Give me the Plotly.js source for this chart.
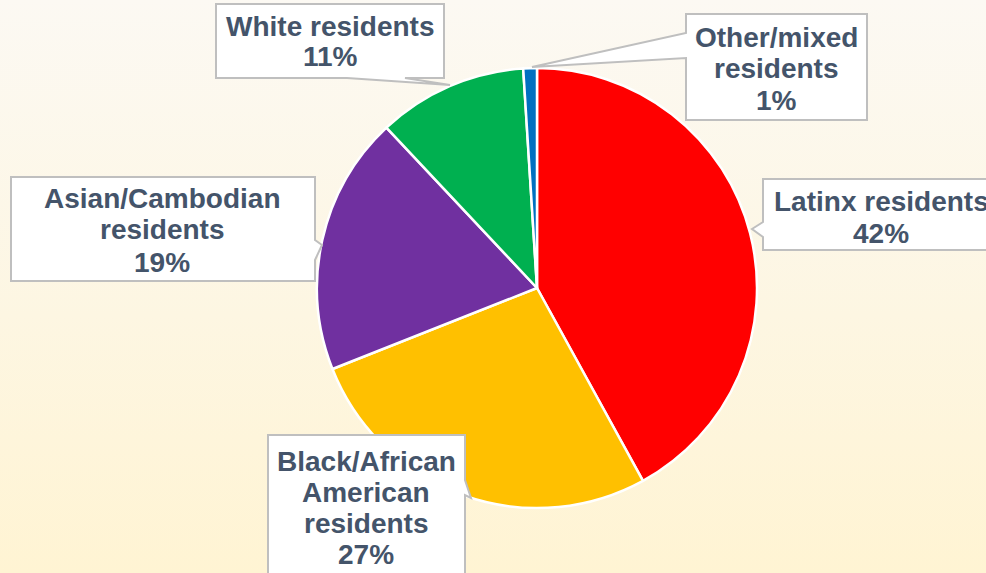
<!DOCTYPE html>
<html>
<head>
<meta charset="utf-8">
<script src="https://cdn.plot.ly/plotly-3.0.1.min.js"></script>
<style>
html,body{margin:0;padding:0;width:986px;height:573px;overflow:hidden;
background:linear-gradient(to bottom,#fcf9f3 0%,#fdf6e2 55%,#fff4d3 100%);}
#chart{width:986px;height:573px;}
</style>
</head>
<body>
<div id="chart"></div>
<script>
// Data
var categories = ["Latinx residents", "Black/African<br>American<br>residents", "Asian/Cambodian<br>residents", "White residents", "Other/mixed<br>residents"];
var values = [42, 27, 19, 11, 1];
var colors = ["#FF0000", "#FFC000", "#7030A0", "#00B050", "#0070C0"];

var W = 986, H = 573;
function px(x){ return x / W; }
function py(y){ return 1 - y / H; }

// Callout layout (pixel positions of boxes, line centers)
var callouts = [
  {cx: 881, lines: [201, 233], path: [[763,179],[1010,179],[1010,250],[763,250],[763,237],[752,229],[763,222]]},
  {cx: 366, lines: [461, 492, 523, 554], path: [[268,435],[465,435],[465,480],[471,498],[465,495],[465,600],[268,600]]},
  {cx: 162, lines: [198, 230, 262], path: [[11,177],[315,177],[315,240],[322,245],[315,260],[315,281],[11,281]]},
  {cx: 330, lines: [26, 57], path: [[216,4],[444,4],[444,78],[405,78],[450,85],[347,78],[216,78]]},
  {cx: 776, lines: [37, 69, 101], path: [[686,14],[867,14],[867,120],[686,120],[686,58],[532,67],[686,33]]}
];

var shapes = [], annotations = [];
callouts.forEach(function(c, i){
  var d = c.path.map(function(p, k){ return (k ? 'L' : 'M') + px(p[0]).toFixed(5) + ',' + py(p[1]).toFixed(5); }).join(' ') + ' Z';
  shapes.push({type:'path', xref:'paper', yref:'paper', path:d, fillcolor:'#FFFFFF', line:{color:'#BFBFBF', width:2}, layer:'above'});
  var parts = categories[i].split('<br>').concat([values[i] + '%']);
  parts.forEach(function(t, k){
    annotations.push({xref:'paper', yref:'paper', x:px(c.cx), y:py(c.lines[k]), xanchor:'center', yanchor:'middle',
      text:t, showarrow:false, font:{family:'Liberation Sans, Arial, sans-serif', size:28, color:'#44546A', weight:700}});
  });
});

var trace = {
  type: 'pie',
  labels: categories,
  values: values,
  sort: false,
  direction: 'clockwise',
  rotation: 0,
  textinfo: 'none',
  hoverinfo: 'label+percent',
  marker: {colors: colors, line: {color: '#FFFFFF', width: 2.5}},
  domain: {x: [px(537 - 220), px(537 + 220)], y: [py(288 + 220), py(288 - 220)]}
};

var layout = {
  width: W, height: H,
  margin: {l:0, r:0, t:0, b:0},
  paper_bgcolor: 'rgba(0,0,0,0)',
  plot_bgcolor: 'rgba(0,0,0,0)',
  showlegend: false,
  shapes: shapes,
  annotations: annotations
};

Plotly.newPlot('chart', [trace], layout, {displayModeBar:false, staticPlot:true});
</script>
</body>
</html>
